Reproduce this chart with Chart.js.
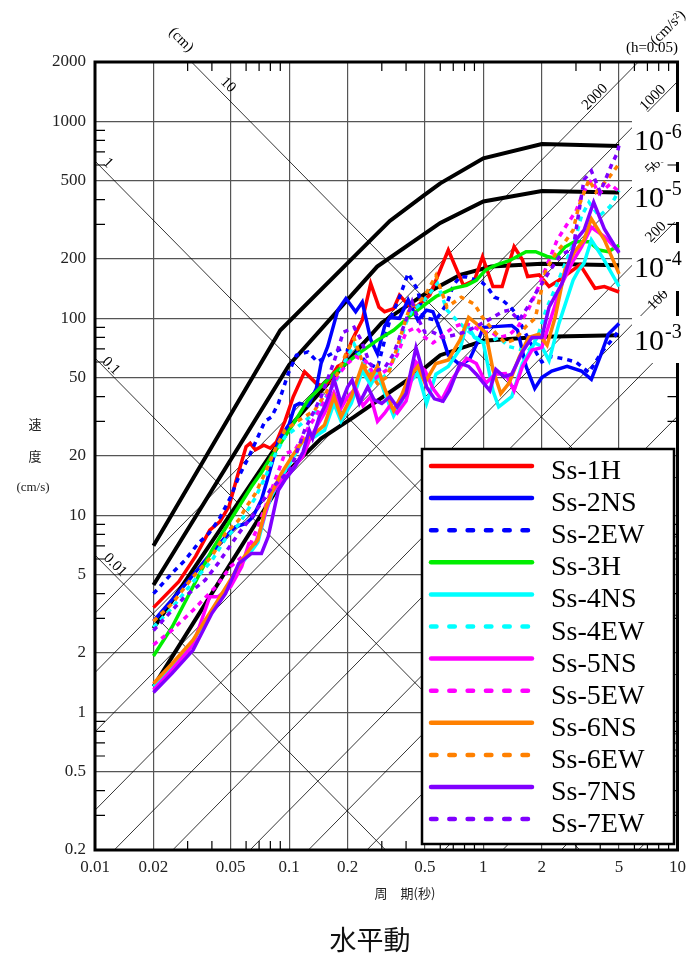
<!DOCTYPE html>
<html>
<head>
<meta charset="utf-8">
<script src="https://cdn.jsdelivr.net/npm/chart.js@4.4.1/dist/chart.umd.min.js"></script>
<style>
  html, body { margin: 0; padding: 0; background: #fff; }
  canvas { display: block; }
</style>
</head>
<body>
<canvas id="chart" width="693" height="960"></canvas>
<script>
// axes
const periodTicks = [0.01, 0.02, 0.05, 0.1, 0.2, 0.5, 1, 2, 5, 10];
const velTicks = [0.2, 0.5, 1, 2, 5, 10, 20, 50, 100, 200, 500, 1000, 2000];
const minorPeriods = [0.03, 0.04, 0.06, 0.07, 0.08, 0.09, 0.3, 0.4, 0.6, 0.7, 0.8, 0.9, 3, 4, 6, 7, 8, 9];
const minorVels = [0.3, 0.4, 0.6, 0.7, 0.8, 0.9, 3, 4, 6, 7, 8, 9, 30, 40, 60, 70, 80, 90, 300, 400, 600, 700, 800, 900];

// tripartite guide lines: displacement (cm) and acceleration (cm/s2)
const dispLines = [0.01, 0.1, 1, 10];
const accLines = [0.2, 0.5, 1, 2, 5, 10, 20, 50, 100, 200, 500, 1000, 2000];

// uniform hazard spectra (annual exceedance)
const probLabels = ['-6', '-5', '-4', '-3'];
const uhs6T = [0.02, 0.09, 0.33, 0.5, 0.6, 1.0, 2.0, 5.0];
const uhs6V = [7.0, 87, 312, 424, 484, 649, 767, 750];
const uhs5T = [0.02, 0.1, 0.284, 0.6, 1.0, 2.0, 5.0];
const uhs5V = [4.43, 58, 183, 305, 392, 443, 435];
const uhs4T = [0.02, 0.1, 0.3, 0.5, 0.76, 1.1, 2.0, 5.0];
const uhs4V = [2.67, 28, 95, 133, 166, 183, 189, 186];
const uhs3T = [0.02, 0.1, 0.146, 0.216, 0.5, 0.6, 1.0, 2.0, 5.0];
const uhs3V = [1.35, 17, 24.5, 31.6, 56, 65, 77, 80.5, 82];

// Ss spectra
const ss1hT = [0.02, 0.027, 0.033, 0.039, 0.044, 0.049, 0.054, 0.06, 0.063, 0.067, 0.074, 0.08, 0.086, 0.095, 0.105, 0.12, 0.138, 0.152, 0.178, 0.19, 0.211, 0.238, 0.263, 0.29, 0.31, 0.345, 0.37, 0.41, 0.45, 0.53, 0.66, 0.73, 0.79, 0.9, 0.99, 1.12, 1.25, 1.44, 1.59, 1.69, 1.94, 2.18, 2.45, 3.15, 3.76, 4.2, 5.0];
const ss1hV = [3.4, 4.6, 6.2, 8.4, 9.3, 11.1, 15.7, 22.3, 23.2, 21.5, 22.7, 21.9, 23.6, 30, 40, 53.6, 46.8, 44.8, 57, 59, 77.6, 98, 150, 114, 108, 112, 131, 117, 114, 131, 222, 176, 147, 156, 205, 145, 145, 231, 198, 163, 166, 145, 156, 187, 142, 145, 136];

const ss2nsT = [0.02, 0.03, 0.04, 0.05, 0.053, 0.06, 0.065, 0.072, 0.077, 0.088, 0.1, 0.107, 0.113, 0.125, 0.138, 0.146, 0.158, 0.178, 0.196, 0.22, 0.238, 0.263, 0.285, 0.31, 0.33, 0.37, 0.41, 0.46, 0.51, 0.55, 0.6, 0.66, 0.76, 0.85, 0.93, 1.0, 1.2, 1.4, 1.5, 1.66, 1.84, 2.0, 2.25, 2.7, 3.2, 3.6, 4.0, 4.4, 5.0];
const ss2nsV = [2.9, 4.6, 6.5, 8.3, 8.75, 9.1, 9.8, 12, 15, 24, 29, 36, 37, 36, 44, 59, 72, 110, 126, 108, 121, 78, 66, 91, 101, 100, 124, 98, 110, 108, 87, 65, 58, 62, 75, 90, 91, 92, 87, 57, 44, 50, 54, 57, 54, 49, 64, 83, 94];

const ss2ewT = [0.02, 0.025, 0.029, 0.034, 0.0386, 0.0434, 0.05, 0.055, 0.062, 0.069, 0.075, 0.081, 0.088, 0.099, 0.109, 0.125, 0.14, 0.16, 0.185, 0.22, 0.254, 0.285, 0.33, 0.37, 0.41, 0.46, 0.49, 0.57, 0.65, 0.7, 0.76, 0.82, 0.98, 1.06, 1.14, 1.25, 1.38, 1.47, 1.59, 1.75, 2.0, 2.25, 2.65, 3.0, 3.5, 4.05, 4.8, 5.0];
const ss2ewV = [4.0, 5.1, 5.9, 7.2, 8.1, 9.5, 12.4, 15.7, 19.8, 25, 30, 31.5, 37, 52.6, 65, 67.5, 60, 65, 70, 68, 59, 56, 98, 128, 169, 139, 101, 98, 119, 147, 163, 162, 153, 142, 128, 124, 114, 106, 90, 75, 60, 64, 62, 60, 53, 67, 82, 88];

const ss3hT = [0.02, 0.025, 0.032, 0.04, 0.051, 0.064, 0.072, 0.081, 0.088, 0.107, 0.125, 0.146, 0.17, 0.2, 0.234, 0.285, 0.345, 0.42, 0.51, 0.57, 0.7, 0.82, 0.92, 1.03, 1.16, 1.36, 1.66, 1.86, 2.13, 2.35, 2.63, 2.95, 3.5, 3.94, 4.4, 5.0];
const ss3hV = [1.93, 2.72, 4.35, 6.66, 9.8, 14, 16.5, 19.9, 22.3, 30, 38.5, 45, 52.5, 60, 67.5, 77.5, 87, 103, 119, 129, 142, 147, 156, 176, 186, 196, 218, 218, 206, 202, 230, 245, 245, 222, 218, 235];

const ss4nsT = [0.02, 0.025, 0.032, 0.037, 0.043, 0.051, 0.057, 0.064, 0.069, 0.075, 0.081, 0.091, 0.103, 0.118, 0.135, 0.152, 0.17, 0.185, 0.209, 0.238, 0.263, 0.285, 0.31, 0.345, 0.38, 0.41, 0.46, 0.51, 0.57, 0.66, 0.76, 0.82, 0.9, 1.0, 1.12, 1.2, 1.4, 1.59, 1.84, 2.0, 2.18, 2.45, 2.9, 3.1, 3.3, 3.6, 4.2, 5.0];
const ss4nsV = [1.35, 1.72, 2.3, 2.9, 3.6, 4.7, 5.7, 6.6, 7.3, 10, 12.5, 15.5, 19, 24, 25, 27, 37, 30, 37, 54, 46, 53, 42, 32, 38, 46, 53, 37, 52, 57, 70, 94, 80, 75, 43, 35.5, 40, 59, 75, 72, 61, 94, 156, 176, 190, 250, 197, 145];

const ss4ewT = [0.02, 0.025, 0.032, 0.04, 0.047, 0.055, 0.06, 0.067, 0.075, 0.084, 0.095, 0.11, 0.135, 0.155, 0.178, 0.196, 0.216, 0.24, 0.285, 0.32, 0.36, 0.4, 0.43, 0.46, 0.5, 0.58, 0.65, 0.75, 0.85, 0.95, 1.05, 1.2, 1.35, 1.5, 1.7, 1.9, 2.1, 2.4, 2.7, 3.0, 3.2, 3.5, 3.95, 4.5, 5.0];
const ss4ewV = [2.7, 3.4, 4.6, 5.9, 7.6, 9.0, 10.3, 12.3, 15.5, 20, 25, 28, 33, 40, 50, 62, 74, 60, 48, 52, 68, 95, 110, 115, 125, 150, 110, 95, 85, 78, 75, 80, 72, 70, 68, 80, 110, 150, 200, 260, 330, 388, 330, 370, 445];

const ss5nsT = [0.02, 0.025, 0.032, 0.039, 0.043, 0.05, 0.057, 0.062, 0.067, 0.072, 0.081, 0.091, 0.103, 0.118, 0.127, 0.138, 0.152, 0.17, 0.185, 0.2, 0.22, 0.24, 0.263, 0.285, 0.31, 0.33, 0.36, 0.4, 0.45, 0.5, 0.55, 0.61, 0.7, 0.82, 0.92, 1.03, 1.15, 1.3, 1.44, 1.59, 1.78, 2.0, 2.25, 2.54, 2.9, 3.2, 3.6, 4.2, 5.0];
const ss5nsV = [1.3, 1.65, 2.2, 3.86, 3.86, 4.35, 5.5, 7.2, 7.2, 8.8, 12.9, 15, 17, 20, 24, 28, 33, 42, 35, 40, 44, 36, 40, 30, 33, 36, 33, 38, 60, 54.5, 44, 38.5, 50, 62.7, 59, 46.8, 52, 52.4, 43, 57, 69, 71, 103, 150, 196, 230, 290, 260, 218];

const ss5ewT = [0.02, 0.025, 0.032, 0.042, 0.05, 0.06, 0.069, 0.081, 0.095, 0.107, 0.12, 0.14, 0.16, 0.18, 0.2, 0.22, 0.25, 0.28, 0.32, 0.36, 0.4, 0.45, 0.5, 0.55, 0.6, 0.7, 0.8, 0.9, 1.0, 1.1, 1.2, 1.35, 1.5, 1.7, 1.9, 2.1, 2.4, 2.7, 3.0, 3.25, 3.6, 3.95, 4.5, 5.0];
const ss5ewV = [2.2, 2.62, 3.3, 4.35, 5.5, 6.4, 8.75, 13.4, 20.6, 21.4, 26, 33, 42, 52, 59, 64, 60, 50, 55, 65, 85, 90, 80, 75, 80, 90, 95, 90, 85, 85, 80, 82, 90, 110, 140, 180, 250, 300, 350, 430, 505, 430, 480, 440];

const ss6nsT = [0.02, 0.025, 0.032, 0.037, 0.043, 0.051, 0.057, 0.064, 0.069, 0.075, 0.081, 0.091, 0.103, 0.118, 0.135, 0.152, 0.17, 0.185, 0.209, 0.238, 0.263, 0.285, 0.31, 0.345, 0.38, 0.41, 0.46, 0.5, 0.57, 0.66, 0.76, 0.84, 0.92, 1.03, 1.12, 1.23, 1.36, 1.53, 1.71, 1.93, 2.13, 2.35, 2.63, 2.95, 3.3, 3.6, 4.2, 5.0];
const ss6nsV = [1.4, 1.77, 2.33, 2.94, 3.72, 4.88, 5.94, 6.9, 7.5, 10.6, 12.9, 16.3, 19.8, 24, 26, 28.7, 40, 31.6, 40, 58, 49.3, 57, 44.2, 34, 40.8, 49.3, 57, 47, 59, 61.5, 78, 101, 94, 84, 55, 41.5, 47, 63.5, 80, 83, 73, 102, 176, 218, 250, 320, 250, 168];

const ss6ewT = [0.02, 0.025, 0.032, 0.04, 0.047, 0.055, 0.06, 0.067, 0.075, 0.084, 0.095, 0.11, 0.135, 0.155, 0.178, 0.196, 0.216, 0.24, 0.285, 0.32, 0.36, 0.4, 0.42, 0.46, 0.5, 0.57, 0.65, 0.77, 0.9, 0.99, 1.16, 1.3, 1.45, 1.66, 1.85, 2.1, 2.35, 2.6, 2.9, 3.1, 3.5, 3.8, 4.4, 5.0];
const ss6ewV = [2.9, 3.57, 4.88, 6.2, 8.1, 9.46, 11, 12.9, 16.3, 21.3, 27, 30, 34, 42, 52.6, 66, 79, 59, 46.6, 50.5, 71, 100, 114, 120, 130, 165, 114, 128, 118, 101, 84, 75, 78, 91, 100, 176, 212, 240, 280, 370, 505, 437, 512, 610];

const ss7nsT = [0.02, 0.025, 0.032, 0.04, 0.047, 0.055, 0.064, 0.072, 0.078, 0.088, 0.095, 0.107, 0.118, 0.127, 0.132, 0.143, 0.152, 0.161, 0.17, 0.185, 0.2, 0.211, 0.23, 0.254, 0.274, 0.3, 0.33, 0.36, 0.4, 0.45, 0.48, 0.51, 0.56, 0.62, 0.67, 0.76, 0.84, 0.92, 1.0, 1.08, 1.16, 1.28, 1.4, 1.59, 1.78, 2.0, 2.18, 2.54, 3.0, 3.3, 3.7, 4.2, 5.0];
const ss7nsV = [1.26, 1.58, 2.07, 3.18, 4.0, 5.7, 6.4, 6.4, 7.8, 13.4, 15.1, 17.6, 21, 27, 24.6, 31.6, 35.5, 40.8, 49.3, 37, 44.8, 48.6, 37, 44.8, 38.5, 37, 40, 35.5, 41.5, 71, 57, 44.8, 39, 37.9, 43, 59, 57, 52, 47, 43, 55, 50.5, 52, 67.7, 80, 80, 114, 150, 250, 280, 388, 284, 215];

const ss7ewT = [0.02, 0.025, 0.029, 0.037, 0.043, 0.055, 0.065, 0.081, 0.095, 0.103, 0.12, 0.146, 0.17, 0.19, 0.216, 0.234, 0.26, 0.285, 0.31, 0.345, 0.37, 0.4, 0.43, 0.46, 0.5, 0.55, 0.62, 0.7, 0.8, 0.9, 1.0, 1.1, 1.25, 1.36, 1.53, 1.7, 1.86, 2.0, 2.18, 2.5, 2.9, 3.05, 3.3, 3.6, 4.0, 4.6, 4.9, 5.0];
const ss7ewV = [2.6, 3.3, 3.86, 4.7, 5.7, 8.1, 10, 13.7, 16, 17.6, 27, 40, 60, 85, 90, 78, 59, 54.5, 56, 66, 80, 98, 121, 100, 85, 85, 80, 82, 85, 90, 95, 100, 108, 110, 98, 115, 134, 150, 172, 210, 225, 310, 505, 560, 437, 610, 690, 760];

const series = [
  { name: 'Ss-1H',  color: '#ff0000', dash: false, T: ss1hT,  V: ss1hV },
  { name: 'Ss-2NS', color: '#0000ff', dash: false, T: ss2nsT, V: ss2nsV },
  { name: 'Ss-2EW', color: '#0000ff', dash: true,  T: ss2ewT, V: ss2ewV },
  { name: 'Ss-3H',  color: '#00ee00', dash: false, T: ss3hT,  V: ss3hV },
  { name: 'Ss-4NS', color: '#00ffff', dash: false, T: ss4nsT, V: ss4nsV },
  { name: 'Ss-4EW', color: '#00ffff', dash: true,  T: ss4ewT, V: ss4ewV },
  { name: 'Ss-5NS', color: '#ff00ff', dash: false, T: ss5nsT, V: ss5nsV },
  { name: 'Ss-5EW', color: '#ff00ff', dash: true,  T: ss5ewT, V: ss5ewV },
  { name: 'Ss-6NS', color: '#ff8000', dash: false, T: ss6nsT, V: ss6nsV },
  { name: 'Ss-6EW', color: '#ff8000', dash: true,  T: ss6ewT, V: ss6ewV },
  { name: 'Ss-7NS', color: '#8000ff', dash: false, T: ss7nsT, V: ss7nsV },
  { name: 'Ss-7EW', color: '#8000ff', dash: true,  T: ss7ewT, V: ss7ewV },
];
const uhs = [[uhs6T, uhs6V], [uhs5T, uhs5V], [uhs4T, uhs4V], [uhs3T, uhs3V]];

const SERIF = "'Liberation Serif', 'DejaVu Serif', serif";
const CJK = "'Noto Sans CJK JP', sans-serif";

const pts = (T, V) => T.map((t, i) => ({ x: t, y: V[i] }));

const datasets = [];
series.forEach((s, i) => datasets.push({
  label: s.name, data: pts(s.T, s.V), showLine: true, pointRadius: 0,
  borderColor: s.color, borderWidth: 3.5, borderDash: s.dash ? [5, 5] : [],
  order: 12 - i, clip: 0,
}));
uhs.forEach(([T, V]) => datasets.push({
  label: '', data: pts(T, V), showLine: true, pointRadius: 0,
  borderColor: '#000', borderWidth: 4, order: 20, clip: 0,
}));
// guide lines: V = 2*pi*D/T and V = A*T/(2*pi), drawn across the full period range
dispLines.forEach((d) => datasets.push({
  label: '', data: [0.01, 10].map((t) => ({ x: t, y: 2 * Math.PI * d / t })),
  showLine: true, pointRadius: 0, borderColor: '#000', borderWidth: 0.8, order: 30, clip: 0,
}));
accLines.forEach((a) => datasets.push({
  label: '', data: [0.01, 10].map((t) => ({ x: t, y: a * t / (2 * Math.PI) })),
  showLine: true, pointRadius: 0, borderColor: '#000', borderWidth: 0.8, order: 30, clip: 0,
}));

function rotText(ctx, s, cx, cy, ang, font) {
  ctx.save();
  ctx.translate(cx, cy);
  ctx.rotate(ang);
  ctx.font = font;
  ctx.textAlign = 'center';
  ctx.textBaseline = 'middle';
  ctx.fillText(s, 0, 0);
  ctx.restore();
}

const overlay = {
  id: 'overlay',
  afterDatasetsDraw(chart) {
    const { ctx, chartArea: a, scales: { x, y } } = chart;
    ctx.save();
    ctx.fillStyle = '#000';
    ctx.strokeStyle = '#000';

    // minor ticks, inward on all four sides
    ctx.lineWidth = 1.2;
    ctx.beginPath();
    minorPeriods.forEach((t) => {
      const px = x.getPixelForValue(t);
      ctx.moveTo(px, a.bottom); ctx.lineTo(px, a.bottom - 9);
      ctx.moveTo(px, a.top); ctx.lineTo(px, a.top + 9);
    });
    minorVels.forEach((v) => {
      const py = y.getPixelForValue(v);
      ctx.moveTo(a.left, py); ctx.lineTo(a.left + 10, py);
      ctx.moveTo(a.right, py); ctx.lineTo(a.right - 10, py);
    });
    ctx.stroke();

    ctx.lineWidth = 3;
    ctx.strokeRect(a.left, a.top, a.right - a.left, a.bottom - a.top);

    // guide line labels
    const small = `15px ${SERIF}`;
    const q = Math.PI / 4;
    rotText(ctx, '(cm)', 181, 40, q, small);
    rotText(ctx, '10', 228, 85, q, small);
    rotText(ctx, '1', 108, 163, q, small);
    rotText(ctx, '0.1', 111, 366, q, small);
    rotText(ctx, '0.01', 115, 565, q, small);
    rotText(ctx, '2000', 595, 97, -q, small);
    rotText(ctx, '1000', 653, 98, -q, small);
    rotText(ctx, '500', 656, 164, -q, small);
    rotText(ctx, '200', 656, 232, -q, small);
    rotText(ctx, '100', 658, 300, -q, small);
    rotText(ctx, '(cm/s\u00b2)', 668, 28, -q, small);
    ctx.font = small;
    ctx.textAlign = 'center';
    ctx.textBaseline = 'middle';
    ctx.fillText('(h=0.05)', 652, 48);

    // exceedance labels on white boxes
    const boxTop = [112, 172, 243, 316];
    const boxBot = [162, 222, 291, 363];
    const base = [150, 207, 277, 350];
    probLabels.forEach((p, i) => {
      ctx.fillStyle = '#fff';
      ctx.fillRect(632, boxTop[i], 61, boxBot[i] - boxTop[i]);
      ctx.fillStyle = '#000';
      ctx.textAlign = 'left';
      ctx.textBaseline = 'alphabetic';
      ctx.font = `30px ${SERIF}`;
      ctx.fillText('10', 634, base[i]);
      const w = ctx.measureText('10').width;
      ctx.font = `20px ${SERIF}`;
      ctx.fillText(p, 634 + w + 1, base[i] - 12);
    });

    // legend
    ctx.fillStyle = '#fff';
    ctx.fillRect(422, 449, 252, 395);
    ctx.lineWidth = 2.5;
    ctx.strokeStyle = '#000';
    ctx.strokeRect(422, 449, 252, 395);
    series.forEach((s, i) => {
      const ly = 466 + i * 32.1;
      ctx.strokeStyle = s.color;
      ctx.lineWidth = 4.5;
      ctx.lineCap = 'round';
      ctx.setLineDash(s.dash ? [5.5, 12.8] : []);
      ctx.beginPath();
      ctx.moveTo(431, ly); ctx.lineTo(532, ly);
      ctx.stroke();
      ctx.setLineDash([]);
      ctx.fillStyle = '#000';
      ctx.font = `28px ${SERIF}`;
      ctx.textAlign = 'left';
      ctx.textBaseline = 'alphabetic';
      ctx.fillText(s.name, 551, ly + 13);
    });

    // axis titles and caption
    ctx.fillStyle = '#222';
    ctx.textAlign = 'center';
    ctx.textBaseline = 'middle';
    ctx.font = `13px ${CJK}`;
    ctx.fillText('周\u3000期(秒)', 405, 893);
    ctx.fillText('速', 35, 424);
    ctx.fillText('度', 35, 456);
    ctx.font = `13px ${SERIF}`;
    ctx.fillText('(cm/s)', 33, 488);
    ctx.fillStyle = '#111';
    ctx.font = `27px ${CJK}`;
    ctx.fillText('水平動', 370, 940);
    ctx.restore();
  },
};

new Chart(document.getElementById('chart'), {
  type: 'scatter',
  data: { datasets },
  options: {
    responsive: false,
    animation: false,
    events: [],
    layout: { padding: { top: 62, right: 10, left: 0, bottom: 0 } },
    plugins: { legend: { display: false }, tooltip: { enabled: false }, title: { display: false } },
    scales: {
      x: {
        type: 'logarithmic', min: 0.01, max: 10,
        afterBuildTicks: (s) => { s.ticks = periodTicks.map((v) => ({ value: v })); },
        afterFit: (s) => { s.height = 110; },
        grid: { color: '#555', lineWidth: 1.2, drawTicks: false },
        border: { display: false },
        ticks: {
          autoSkip: false, maxRotation: 0, padding: 7, color: '#222',
          font: { family: SERIF, size: 17 },
          callback: (v) => String(v),
        },
      },
      y: {
        type: 'logarithmic', min: 0.2, max: 2000,
        afterBuildTicks: (s) => { s.ticks = velTicks.map((v) => ({ value: v })); },
        afterFit: (s) => { s.width = 95; },
        grid: { color: '#555', lineWidth: 1.2, drawTicks: false },
        border: { display: false },
        ticks: {
          autoSkip: false, padding: 9, color: '#222',
          font: { family: SERIF, size: 17 },
          callback: (v) => String(v),
        },
      },
    },
  },
  plugins: [overlay],
});
</script>
</body>
</html>
